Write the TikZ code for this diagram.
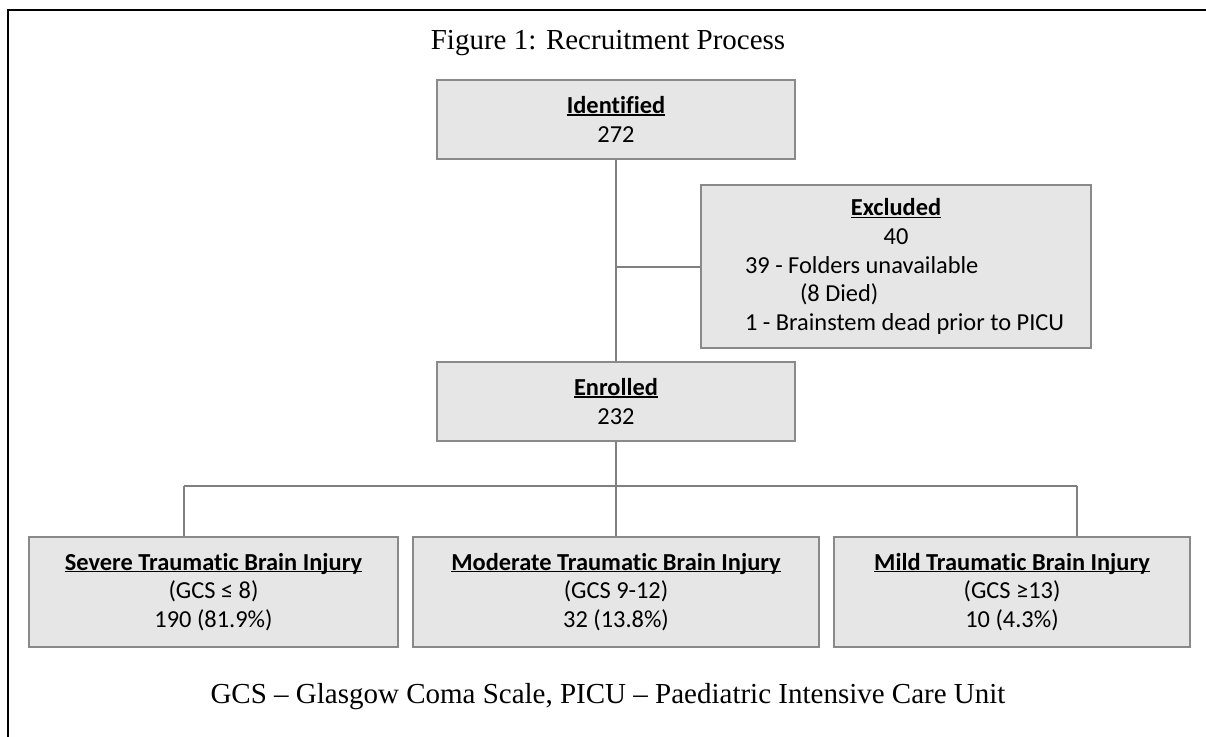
\documentclass[tikz,border=0pt]{standalone}
\usepackage{fontspec}
\setmainfont{Liberation Serif}
\newfontfamily\boxfont[Ligatures=NoCommon]{Carlito}
\usepackage{tikz}
\usetikzlibrary{positioning}

\definecolor{boxfill}{HTML}{E6E6E6}
\definecolor{boxline}{HTML}{8A8A8A}
\definecolor{linkline}{HTML}{808080}

% bold heading with a flat underline
\newcommand{\ulbf}[1]{\textbf{\setbox0\hbox{#1}\rlap{\rule[-0.09em]{\wd0}{0.06em}}\box0}}
% one line of the excluded box, 44pt in from its left side
\newcommand{\exline}[2][44pt]{\makebox[390pt][l]{\hspace*{#1}#2}}

\begin{document}
\begin{tikzpicture}[x=1pt, y=-1pt,
        box/.style={draw=boxline, line width=2pt, fill=boxfill, inner sep=0pt,
            align=center, font=\boxfont\fontsize{24.4}{28.6}\selectfont},
        link/.style={draw=linkline, line width=2pt},
        note/.style={font=\fontsize{29}{34}\selectfont}
    ]
    \useasboundingbox (0, 0) rectangle (1206, 736);
    \draw[line width=2pt]
        (8, 740) -- (8, 10) -- (1210, 10)
    ;

    \node[note] (title) at (608, 43) {Figure 1: Recruitment Process};

    \node[box, minimum width=358pt, minimum height=79pt] (ident) at (616, 119.5)
        {\ulbf{Identified}\\272};
    \node[box, minimum width=390pt, minimum height=163pt, align=left] (excl) at (896, 266.5)
        {\makebox[390pt]{\ulbf{Excluded}}\\
         \makebox[390pt]{40}\\
         \exline{39 - Folders unavailable}\\
         \exline[99pt]{(8 Died)}\\
         \exline{1 - Brainstem dead prior to PICU}};
    \node[box, minimum width=358pt, minimum height=79pt] (enrol) at (616, 401.5)
        {\ulbf{Enrolled}\\232};

    \node[box, minimum width=369pt, minimum height=110pt] (severe) at (213.5, 592)
        {\ulbf{Severe Traumatic Brain Injury}\\(GCS ≤ 8)\\190 (81.9\%)};
    \node[box, minimum width=406pt, minimum height=110pt] (moder) at (616, 592)
        {\ulbf{Moderate Traumatic Brain Injury}\\(GCS 9-12)\\32 (13.8\%)};
    \node[box, minimum width=356pt, minimum height=110pt] (mild) at (1012, 592)
        {\ulbf{Mild Traumatic Brain Injury}\\(GCS ≥13)\\10 (4.3\%)};

    \node[note] (foot) at (608, 697) {GCS -- Glasgow Coma Scale, PICU -- Paediatric Intensive Care Unit};

    \coordinate (busL) at (184, 486);
    \coordinate (busR) at (1077, 486);

    \draw[link]
        (ident) -- (enrol)
        (ident.south |- excl.west) -- (excl.west)
        (enrol) -- (moder)
        (busL) -- (busR)
        (busL) -- (busL |- severe.north)
        (busR) -- (busR |- mild.north)
    ;
\end{tikzpicture}
\end{document}
